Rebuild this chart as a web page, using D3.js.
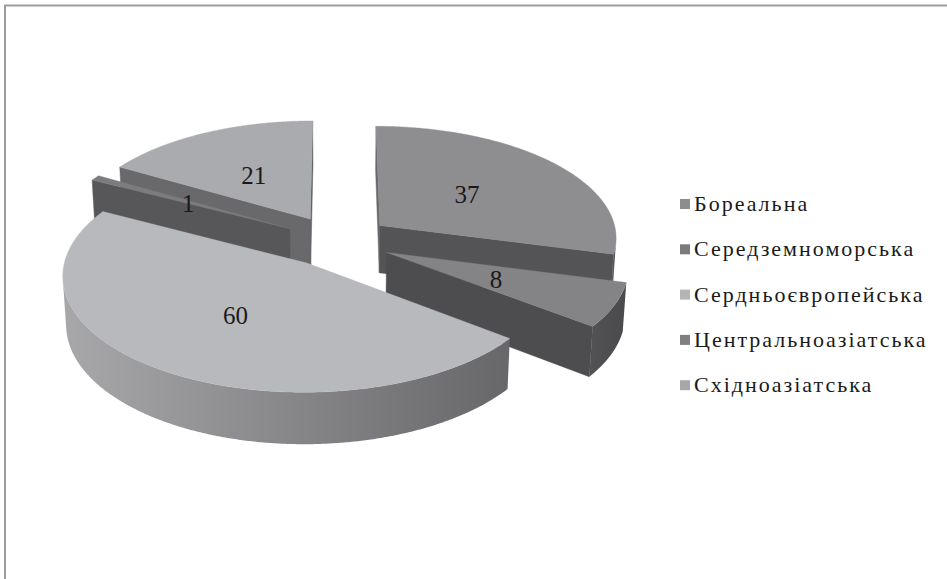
<!DOCTYPE html>
<html><head><meta charset="utf-8">
<script src="https://cdn.jsdelivr.net/npm/d3@7"></script>
<style>body{margin:0;background:#fff} svg{display:block}</style>
</head><body>
<script>
// ---- data ----
const categories = ["Бореальна","Середземноморська","Сердньоєвропейська","Центральноазіатська","Східноазіатська"];
const values = [37, 8, 60, 1, 21];
const labels = ["37","8","60","1","21"];
// ---- styles ----
const topColors    = ["#8e8e91","#848487","#b8b9bd","#7c7c7f","#aaabaf"];
const startFace    = ["#68686b","#505053","#707073","#57575a","#69696c"];
const endFace      = ["#545457","#4d4d50","#707073","#505053","#5c5c5f"];
const outerLight   = ["#5a5a5d","#525255","#a8a8ab","#5a5a5d","#6a6a6d"];
const outerDark    = ["#505053","#4a4a4d","#67676a","#505053","#606063"];
const legendColors = ["#8d8d8f","#7b7b7d","#b5b5b8","#808082","#a7a7aa"];
const FONT = "'Liberation Serif', 'DejaVu Serif', 'Noto Serif', 'Times New Roman', serif";

const W = 947, H = 579;
const svg = d3.select("body").append("svg").attr("width", W).attr("height", H);

// border (top + left)
svg.append("line").attr("x1",4).attr("x2",W).attr("y1",5.5).attr("y2",5.5).attr("stroke","#9d9d9d").attr("stroke-width",2);
svg.append("line").attr("x1",5).attr("x2",5).attr("y1",5).attr("y2",H).attr("stroke","#9d9d9d").attr("stroke-width",2);

// ---- 3D projection ----
const cx = 337, cy = 241, S = 238, D = 9;
const sinP = 0.47, cosP = Math.sqrt(1 - sinP*sinP);
const depthH = 0.23, explode = 0.23;
function proj(X, Y, Hh) {
  const z = D + Y*cosP - Hh*sinP;
  return [cx + S*D*X/z, cy - S*D*(Y*sinP + Hh*cosP)/z];
}
const cam = [0, -D*cosP, D*sinP];

const pie = d3.pie().sort(null).value(d => d);
const arcs = pie(values).map((a, i) => {
  const mid = (a.startAngle + a.endAngle)/2;
  return {i, a0: a.startAngle, a1: a.endAngle, mid,
          ox: explode*Math.sin(mid), oy: explode*Math.cos(mid)};
});

const line = d3.line();
const defs = svg.append("defs");

function P(s, t, r, hh) { return proj(s.ox + r*Math.sin(t), s.oy + r*Math.cos(t), hh); }
function visible(n, p) {
  return n[0]*(cam[0]-p[0]) + n[1]*(cam[1]-p[1]) + n[2]*(cam[2]-p[2]) > 0;
}

// order slices back to front by centroid depth
const order = arcs.slice().sort((A, B) =>
  (B.oy + 0.6*Math.cos(B.mid)) - (A.oy + 0.6*Math.cos(A.mid)));

const sides = svg.append("g");
order.forEach(s => {
  const g = sides.append("g");
  [[s.a0, [-Math.cos(s.a0), Math.sin(s.a0), 0], startFace[s.i]],
   [s.a1, [Math.cos(s.a1), -Math.sin(s.a1), 0], endFace[s.i]]].forEach(([t, n, col]) => {
    const pt = [s.ox + 0.5*Math.sin(t), s.oy + 0.5*Math.cos(t), 0];
    if (!visible(n, pt)) return;
    const poly = [P(s,t,0,0), P(s,t,1,0), P(s,t,1,-depthH), P(s,t,0,-depthH)];
    g.append("path").attr("d", line(poly) + "Z").attr("fill", col).attr("stroke", col).attr("stroke-width", 0.5);
  });
  const N = 400, vis = [];
  for (let k = 0; k <= N; k++) {
    const t = s.a0 + (s.a1 - s.a0)*k/N;
    const n = [Math.sin(t), Math.cos(t), 0];
    const pt = [s.ox + Math.sin(t), s.oy + Math.cos(t), -depthH/2];
    if (visible(n, pt)) vis.push(t);
  }
  if (vis.length > 1) {
    const gid = "og" + s.i;
    const topPts = vis.map(t => P(s,t,1,0));
    const botPts = vis.map(t => P(s,t,1,-depthH)).reverse();
    const xs = topPts.map(p => p[0]);
    const grad = defs.append("linearGradient").attr("id", gid)
      .attr("gradientUnits","userSpaceOnUse")
      .attr("x1", d3.min(xs)).attr("x2", d3.max(xs)).attr("y1",0).attr("y2",0);
    grad.append("stop").attr("offset","0%").attr("stop-color", outerLight[s.i]);
    grad.append("stop").attr("offset","100%").attr("stop-color", outerDark[s.i]);
    g.append("path").attr("d", line(topPts.concat(botPts)) + "Z")
      .attr("fill", `url(#${gid})`);
  }
});

// top faces
const tops = svg.append("g");
arcs.forEach(s => {
  const pts = [P(s, s.a0, 0, 0)];
  const N = 200;
  for (let k = 0; k <= N; k++) pts.push(P(s, s.a0 + (s.a1 - s.a0)*k/N, 1, 0));
  tops.append("path").attr("d", line(pts) + "Z").attr("fill", topColors[s.i])
    .attr("stroke", topColors[s.i]).attr("stroke-width", 0.4);
});

// data labels
arcs.forEach(s => {
  const p = P(s, s.mid, 0.5, 0);
  svg.append("text").attr("x", p[0] - 2).attr("y", p[1] + 1)
    .attr("text-anchor","middle").attr("dominant-baseline","central")
    .attr("font-family", FONT)
    .attr("font-size", 25).attr("fill","#1a1a1a").text(labels[s.i]);
});

// legend
const lg = svg.append("g");
categories.forEach((c, i) => {
  const yc = 204 + i*45.3;
  lg.append("rect").attr("x", 680).attr("y", yc - 5).attr("width", 10).attr("height", 10)
    .attr("fill", legendColors[i]);
  lg.append("text").attr("x", 694).attr("y", yc + 7)
    .attr("font-family", FONT).attr("letter-spacing", 2)
    .attr("font-size", 22).attr("fill","#1a1a1a").text(c);
});
</script>
</body></html>
